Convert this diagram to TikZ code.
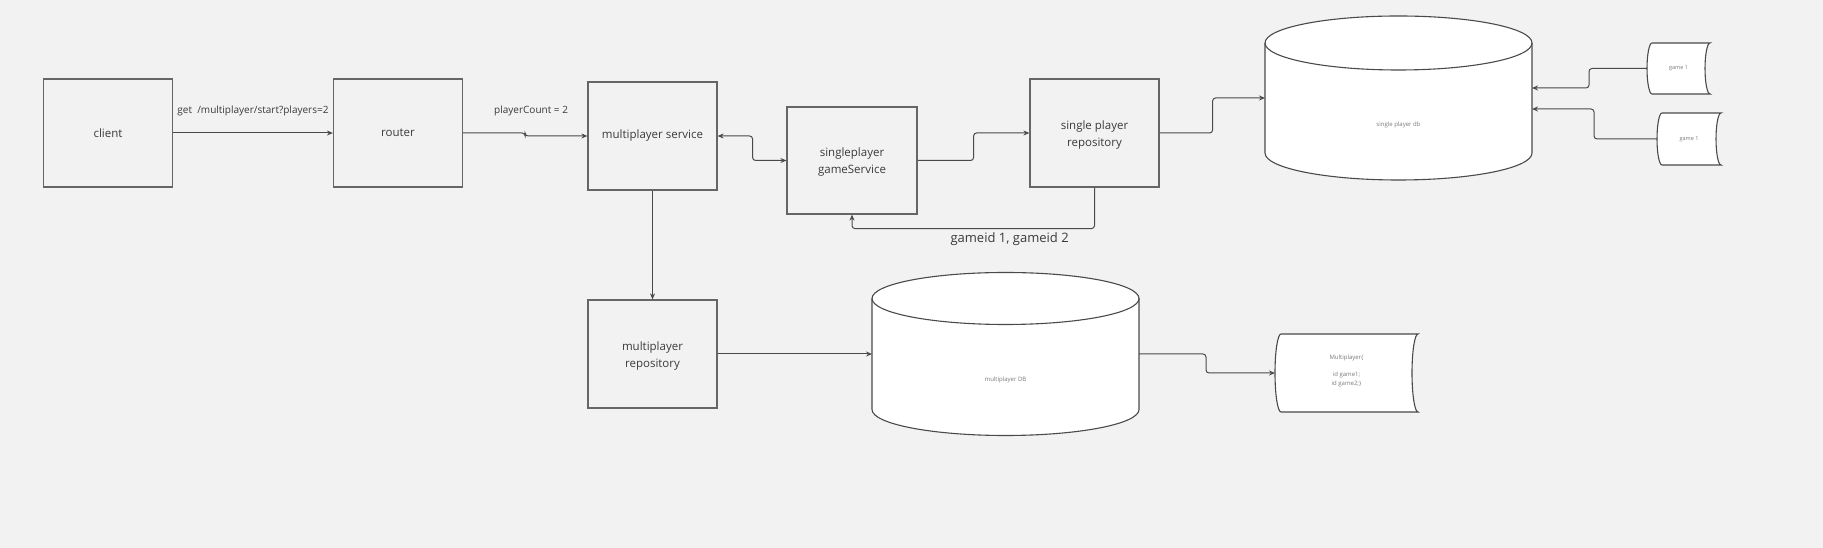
\documentclass[tikz,border=0pt]{standalone}
\usepackage{fontspec}
\setmainfont{Open Sans}
\usepackage{tikz}
\usetikzlibrary{arrows.meta}

\definecolor{canvas}{HTML}{F2F2F2}
\definecolor{frame}{HTML}{666666}
\definecolor{wire}{HTML}{4A4A4A}
\definecolor{ink}{HTML}{3A3A3A}
\definecolor{faint}{HTML}{7A7A7A}

\begin{document}
\begin{tikzpicture}[x=1pt,y=1pt,
        >={Stealth[length=6pt,width=5pt]},
        box/.style={draw=frame,line width=1.2pt,fill=canvas,minimum width=129pt,minimum height=108pt,
            inner sep=0pt,align=center,text=ink,font=\fontsize{11.5}{17}\selectfont},
        hold/.style={inner sep=0pt,outer sep=0pt},
        link/.style={wire,line width=1pt,rounded corners=3pt,->},
        flow/.style={text=ink,font=\fontsize{10}{12}\selectfont},
        note/.style={text=ink,font=\fontsize{13}{15}\selectfont},
        shell/.style={draw=wire,line width=1.1pt,fill=white},
        tiny/.style={text=faint,align=center,font=\fontsize{6}{8.5}\selectfont}]
        \useasboundingbox (0,0) rectangle (1823,548);
        \fill [canvas] (0,0) rectangle (1823,548);

        % boxes
        \node [box] (client) at (108,415) {client};
        \node [box] (router) at (398,415) {router};
        \node [box] (mps) at (652.5,412) {multiplayer service};
        \node [box,minimum width=130pt,minimum height=107pt] (sgs) at (852,387.5) {\strut singleplayer\\gameService};
        \node [box] (spr) at (1094.5,415) {\strut single player\\repository};
        \node [box] (mpr) at (652.5,194) {\strut multiplayer\\repository};

        % databases
        \node [hold,minimum width=267pt,minimum height=164pt] (sdb) at (1398.5,450) {};
        \draw [shell] ([yshift=-27pt]sdb.north west) -- ([yshift=27pt]sdb.south west)
            arc [start angle=180,end angle=360,x radius=133.5,y radius=27] -- ([yshift=-27pt]sdb.north east)
            arc [start angle=0,end angle=180,x radius=133.5,y radius=27] -- cycle;
        \draw [shell,fill=none] ([yshift=-27pt]sdb.north west) arc [start angle=180,end angle=360,x radius=133.5,y radius=27];
        \node [tiny] (sdbtext) at ([yshift=-27pt]sdb.center) {single player db};

        \node [hold,minimum width=267pt,minimum height=163pt] (mdb) at (1005.5,194) {};
        \draw [shell] ([yshift=-26pt]mdb.north west) -- ([yshift=26pt]mdb.south west)
            arc [start angle=180,end angle=360,x radius=133.5,y radius=26] -- ([yshift=-26pt]mdb.north east)
            arc [start angle=0,end angle=180,x radius=133.5,y radius=26] -- cycle;
        \draw [shell,fill=none] ([yshift=-26pt]mdb.north west) arc [start angle=180,end angle=360,x radius=133.5,y radius=26];
        \node [tiny] (mdbtext) at ([yshift=-26pt]mdb.center) {multiplayer DB};

        % stored records
        \node [hold,minimum width=63pt,minimum height=51pt] (ga) at (1678.5,479.5) {};
        \draw [shell] ([xshift=5pt]ga.north west) -- (ga.north east)
            arc [start angle=90,end angle=270,x radius=5,y radius=25.5] -- ([xshift=5pt]ga.south west)
            arc [start angle=270,end angle=90,x radius=5,y radius=25.5] -- cycle;
        \node [tiny,font=\fontsize{5.5}{7}\selectfont] (gatext) at (ga) {game 1};

        \node [hold,minimum width=64pt,minimum height=52pt] (gb) at (1689,409) {};
        \draw [shell] ([xshift=5pt]gb.north west) -- (gb.north east)
            arc [start angle=90,end angle=270,x radius=5,y radius=26] -- ([xshift=5pt]gb.south west)
            arc [start angle=270,end angle=90,x radius=5,y radius=26] -- cycle;
        \node [tiny,font=\fontsize{5.5}{7}\selectfont] (gbtext) at (gb) {game 1};

        \node [hold,minimum width=143pt,minimum height=78pt] (mpl) at (1346.5,175) {};
        \draw [shell] ([xshift=6pt]mpl.north west) -- (mpl.north east)
            arc [start angle=90,end angle=270,x radius=6,y radius=39] -- ([xshift=6pt]mpl.south west)
            arc [start angle=270,end angle=90,x radius=6,y radius=39] -- cycle;
        \node [tiny] (mpltext) at ([yshift=2pt]mpl.center) {Multiplayer\{\\[8.5pt]id game1;\\id game2;\}};

        % connectors
        \draw [link] (client.east) -- node[midway,yshift=22pt,flow] {get\ \ /multiplayer/start?players=2} (router.west);
        \draw [link] (router.east) -- ++(62pt,0) node[at end,yshift=22pt,xshift=6pt,flow] {playerCount = 2} |- (mps.west);
        \draw [link,<->] (mps.east) -- ++(35pt,0) |- (sgs.west);
        \draw [link] (sgs.east) -- ++(56pt,0) |- (spr.west);
        \draw [link] (spr.east) -- ++(53pt,0) |- (sdb.west);
        \draw [link] (spr.south) -- ++(0,-41pt) -| node[pos=0.175,yshift=-11pt,note] {gameid 1, gameid 2} (sgs.south);
        \draw [link] (mps.south) -- (mpr.north);
        \draw [link] (mpr.east) -- (mdb.west);
        \draw [link] (mdb.east) -- ++(67pt,0) |- (mpl.west);
        \draw [link] (ga.west) -- ++(-58pt,0) |- ([yshift=10pt]sdb.east);
        \draw [link] (gb.west) -- ++(-63pt,0) |- ([yshift=-11pt]sdb.east);
    \end{tikzpicture}
\end{document}
